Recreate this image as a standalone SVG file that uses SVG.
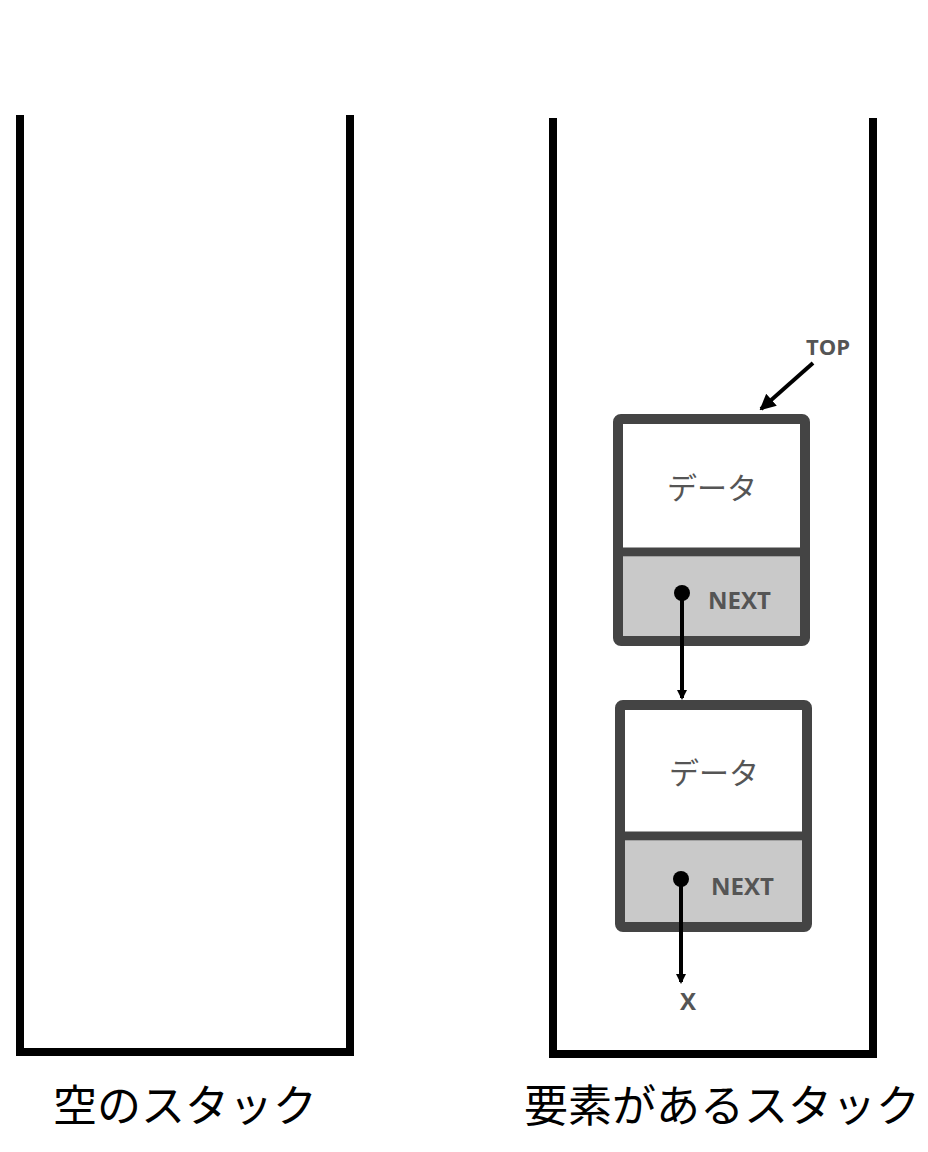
<svg xmlns="http://www.w3.org/2000/svg" width="928" height="1152" viewBox="0 0 928 1152">
<defs>
<style>
.stack{fill:none;stroke:#000;stroke-width:8;}
.box{fill:#fff;stroke:#444;stroke-width:10;}
.next{fill:#c9c9c9;}
.div{stroke:#444;stroke-width:9;}
.lbl{font-family:"Noto Sans CJK JP","Noto Sans",sans-serif;font-size:44px;fill:#000;text-anchor:middle;}
.data{font-family:"Noto Sans CJK JP",sans-serif;font-size:30px;fill:#555;text-anchor:middle;}
.nx{font-family:"Open Sans","Liberation Sans",sans-serif;font-weight:bold;font-size:24px;fill:#555;}
.ptr{stroke:#000;stroke-width:4;fill:none;}
</style>
<marker id="ah" markerWidth="10" markerHeight="10" refX="8" refY="5" orient="auto" markerUnits="userSpaceOnUse"><path d="M0,0 L10,5 L0,10 Z" fill="#000"/></marker>
<marker id="ah2" markerWidth="16" markerHeight="16" refX="14" refY="8" orient="auto" markerUnits="userSpaceOnUse"><path d="M0,0 L16,8 L0,16 Z" fill="#000"/></marker>
</defs>
<g id="stack-empty"><path class="stack" d="M20,115 V1052 H350 V115"/><text class="lbl" x="185" y="1122">空のスタック</text></g>
<g id="stack-full"><path class="stack" d="M553,118 V1054 H873 V118"/><text class="lbl" x="722" y="1122">要素があるスタック</text></g>
<g id="node1">
<rect class="box" x="618" y="419" width="187" height="222" rx="3"/>
<rect class="next" x="623" y="557" width="177" height="79"/>
<line class="div" x1="623" y1="552" x2="800" y2="552"/>
<text class="data" x="712" y="499">データ</text>
<text class="nx" x="708" y="609">NEXT</text>
<circle cx="682" cy="593" r="8" fill="#000"/>
</g>
<g id="node2">
<rect class="box" x="620" y="705" width="187" height="222" rx="3"/>
<rect class="next" x="625" y="841" width="177" height="81"/>
<line class="div" x1="625" y1="836" x2="802" y2="836"/>
<text class="data" x="714" y="784">データ</text>
<text class="nx" x="711" y="895">NEXT</text>
<circle cx="681" cy="879" r="8" fill="#000"/>
</g>
<g id="labels">
<text class="nx" x="806" y="355" style="font-size:22px">TOP</text>
<text class="nx" x="680" y="1010" style="font-size:24px">X</text>
</g>
<g id="connectors">
<line class="ptr" x1="813" y1="363" x2="761" y2="409" marker-end="url(#ah2)"/>
<line class="ptr" x1="682" y1="593" x2="682" y2="698" marker-end="url(#ah)"/>
<line class="ptr" x1="681" y1="879" x2="681" y2="982" marker-end="url(#ah)"/>
</g>
</svg>
